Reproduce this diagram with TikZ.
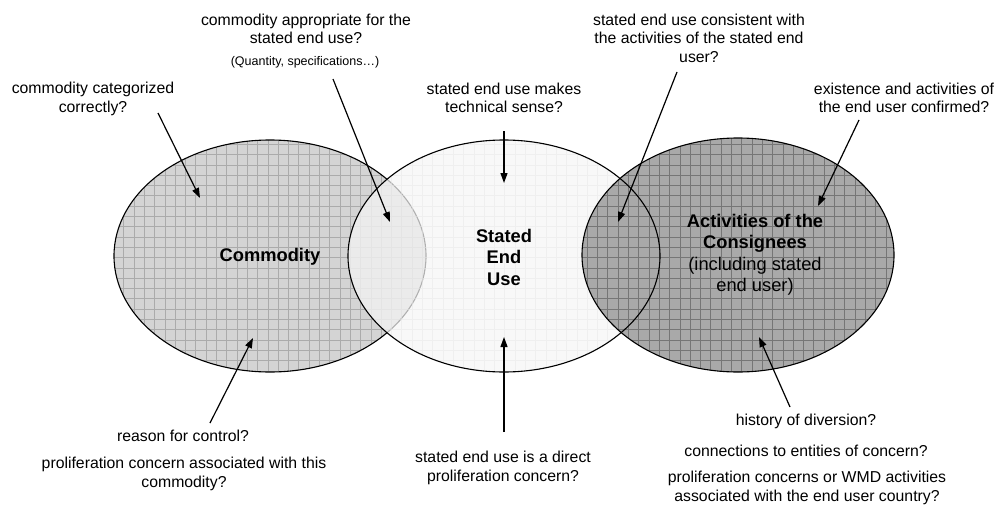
\documentclass[tikz,border=0pt]{standalone}
\usepackage{fontspec}
\setmainfont{Liberation Sans}
\usetikzlibrary{shapes.geometric,arrows.meta}
\definecolor{leftfill}{HTML}{D4D4D4}
\definecolor{leftgrid}{HTML}{ABABAB}
\definecolor{midfill}{HTML}{F5F5F5}
\definecolor{midgrid}{HTML}{E8E8E8}
\definecolor{rightfill}{HTML}{A9A9A9}
\definecolor{rightgrid}{HTML}{767676}
\begin{document}
\begin{tikzpicture}[x=1pt,y=-1pt,
  lbl/.style={align=center, inner sep=0pt, font=\fontsize{15.8}{18.5}\selectfont},
  smalllbl/.style={align=center, inner sep=0pt, font=\fontsize{12.5}{14}\selectfont},
  biglbl/.style={align=center, inner sep=0pt, font=\fontsize{18.3}{21.5}\selectfont},
  arr/.style={-{Triangle[length=10pt,width=7pt]}, line width=1.2pt},
  venn/.style={ellipse, minimum width=312pt, minimum height=232pt, inner sep=0pt, line width=1.1pt},
  gridline/.style={line width=0.5pt}
]
\useasboundingbox (0,0) rectangle (998,506);

% left ellipse fill and grid
\begin{scope}
  \clip (270,256) ellipse [x radius=156pt, y radius=116pt];
  \fill[leftfill] (100,130) rectangle (440,380);
  \draw[gridline, leftgrid, step=10.3pt] (100,130) grid (440,380);
\end{scope}
\node[venn, draw] (commodity) at (270,256) {};

% middle ellipse fill and grid (semi transparent)
\begin{scope}
  \clip (504,256) ellipse [x radius=156pt, y radius=116pt];
  \fill[midfill, fill opacity=0.72] (340,130) rectangle (670,380);
  \draw[gridline, midgrid, step=10.3pt, opacity=0.5] (340,130) grid (670,380);
\end{scope}

% right ellipse fill and grid
\begin{scope}
  \clip (738,255) ellipse [x radius=156pt, y radius=117pt];
  \fill[rightfill] (570,130) rectangle (900,380);
  \draw[gridline, rightgrid, step=10.3pt] (570,130) grid (900,380);
\end{scope}
\node[venn, draw] (enduse) at (504,256) {};
\node[venn, draw, minimum height=234pt] (consignees) at (738,255) {};

% ellipse labels
\node[biglbl, font=\fontsize{18.3}{21.5}\selectfont\bfseries] (commlbl) at (270,257) {Commodity};
\node[biglbl, font=\fontsize{18.3}{21.5}\selectfont\bfseries] (uselbl) at (504,257) {Stated\\End\\Use};
\node[biglbl] (conslbl) at (755,255) {\textbf{Activities of the}\\\textbf{Consignees}\\(including stated\\end user)};

% question labels
\node[lbl] (q1) at (93,99) {commodity categorized\\correctly?};
\node[lbl] (q2) at (306,29) {commodity appropriate for the\\stated end use?};
\node[smalllbl] (q2b) at (305,62) {(Quantity, specifications…)};
\node[lbl] (q3) at (504,98) {stated end use makes\\technical sense?};
\node[lbl] (q4) at (699,38) {stated end use consistent with\\the activities of the stated end\\user?};
\node[lbl] (q5) at (904,98) {existence and activities of\\the end user confirmed?};
\node[lbl] (q6) at (183,436) {reason for control?};
\node[lbl] (q6b) at (184,474) {proliferation concern associated with this\\commodity?};
\node[lbl] (q7) at (503,468) {stated end use is a direct\\proliferation concern?};
\node[lbl] (q8) at (806,421) {history of diversion?};
\node[lbl] (q8b) at (806,451) {connections to entities of concern?};
\node[lbl] (q8c) at (807,488) {proliferation concerns or WMD activities\\associated with the end user country?};

% arrow end points
\coordinate (t1) at (158,113); \coordinate (h1) at (200,198);
\coordinate (t2) at (333,79);  \coordinate (h2) at (390,222);
\coordinate (t3) at (504,131); \coordinate (h3) at (504,183);
\coordinate (t4) at (677,72);  \coordinate (h4) at (618,222);
\coordinate (t5) at (859,120); \coordinate (h5) at (818,206);
\coordinate (t6) at (210,423); \coordinate (h6) at (253,338);
\coordinate (t7) at (504,432); \coordinate (h7) at (504,337);
\coordinate (t8) at (790,407); \coordinate (h8) at (759,337);

\draw[arr] (t1) -- (h1);
\draw[arr] (t2) -- (h2);
\draw[arr] (t3) -- (h3);
\draw[arr] (t4) -- (h4);
\draw[arr] (t5) -- (h5);
\draw[arr] (t6) -- (h6);
\draw[arr] (t7) -- (h7);
\draw[arr] (t8) -- (h8);
\end{tikzpicture}
\end{document}
